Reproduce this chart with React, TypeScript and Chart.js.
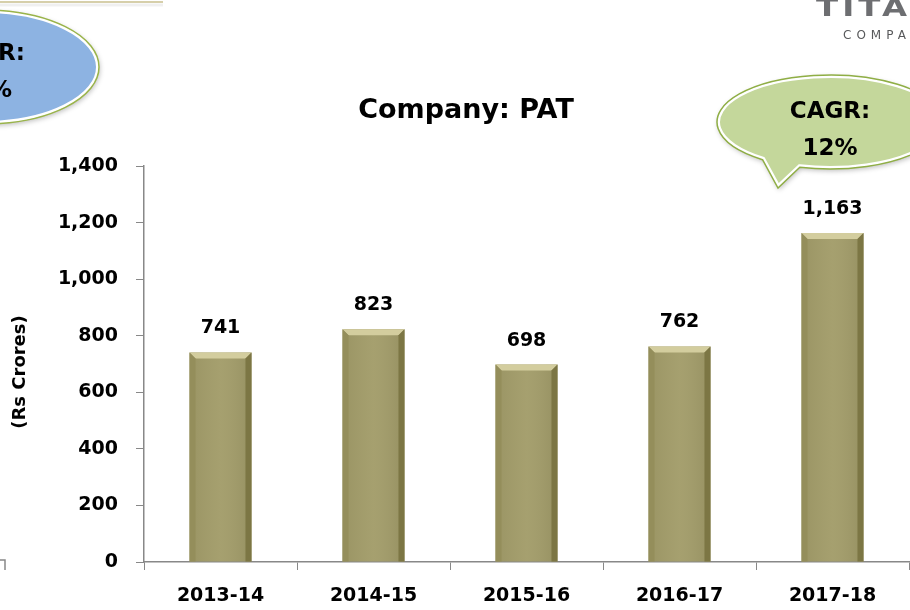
import React, { useEffect, useRef } from "react";
import { Chart, registerables } from "chart.js";

Chart.register(...registerables);

const categories = ["2013-14", "2014-15", "2015-16", "2016-17", "2017-18"];
const patValues = [741, 823, 698, 762, 1163];
const yTicks = [0, 200, 400, 600, 800, 1000, 1200, 1400];
const titleText = "Company: PAT";
const yAxisTitle = "(Rs Crores)";
const bubbleRight = ["CAGR:", "12%"];
const bubbleLeftVisible = ["R:", "%"];

const FONT = "'DejaVu Sans', sans-serif";

function ellipseBubble(ctx: CanvasRenderingContext2D, cx: number, cy: number, rx: number, ry: number, tail: number[] | null) {
  const p = new Path2D();
  if (tail) {
    const [t1, t2, tipX, tipY] = tail;
    p.ellipse(cx, cy, rx, ry, 0, t2, t1, false);
    p.lineTo(tipX, tipY);
    p.closePath();
  } else {
    p.ellipse(cx, cy, rx, ry, 0, 0, Math.PI * 2);
  }
  return p;
}

function paintBubble(ctx: CanvasRenderingContext2D, p: Path2D, fill: string, edge: string) {
  ctx.save();
  ctx.shadowColor = "rgba(0,0,0,0.25)";
  ctx.shadowBlur = 5;
  ctx.shadowOffsetX = 1;
  ctx.shadowOffsetY = 2;
  ctx.fillStyle = fill;
  ctx.fill(p);
  ctx.restore();
  ctx.save();
  ctx.clip(p);
  ctx.lineWidth = 6;
  ctx.strokeStyle = "#ffffff";
  ctx.stroke(p);
  ctx.restore();
  ctx.save();
  ctx.lineWidth = 1.5;
  ctx.strokeStyle = edge;
  ctx.stroke(p);
  ctx.restore();
}

const decorPlugin = {
  id: "decor",
  afterDraw(chart: any) {
    const ctx: CanvasRenderingContext2D = chart.ctx;
    ctx.save();
    // top-left rule
    ctx.strokeStyle = "#D6CFAA";
    ctx.lineWidth = 2;
    ctx.beginPath();
    ctx.moveTo(0, 2);
    ctx.lineTo(163, 2);
    ctx.stroke();
    ctx.strokeStyle = "rgba(0,0,0,0.06)";
    ctx.lineWidth = 3;
    ctx.beginPath();
    ctx.moveTo(0, 5);
    ctx.lineTo(163, 5);
    ctx.stroke();

    // left (blue) ellipse
    const pl = ellipseBubble(ctx, -16, 67, 115, 57, null);
    paintBubble(ctx, pl, "#8DB3E2", "#9AB44A");
    ctx.fillStyle = "#000";
    ctx.font = `bold 23px ${FONT}`;
    ctx.textAlign = "right";
    ctx.textBaseline = "alphabetic";
    ctx.fillText(bubbleLeftVisible[0], 25, 60);
    ctx.fillText(bubbleLeftVisible[1], 12, 97);

    // right (green) speech bubble
    const cx = 830, cy = 122, rx = 113, ry = 47;
    const t1 = Math.atan2((167 - cy) / ry, (800 - cx) / rx);
    const t2 = Math.atan2((160 - cy) / ry, (762 - cx) / rx);
    const pr = ellipseBubble(ctx, cx, cy, rx, ry, [t1, t2, 778, 188]);
    paintBubble(ctx, pr, "#C4D79B", "#8FAE45");
    ctx.fillStyle = "#000";
    ctx.font = `bold 23px ${FONT}`;
    ctx.textAlign = "center";
    ctx.fillText(bubbleRight[0], 830, 118);
    ctx.fillText(bubbleRight[1], 830, 155);

    // logo
    ctx.save();
    ctx.fillStyle = "#6D6E71";
    ctx.textAlign = "left";
    ctx.translate(816, 16);
    ctx.scale(1.35, 1);
    ctx.font = `bold 24px ${FONT}`;
    (ctx as any).letterSpacing = "3px";
    ctx.fillText("TITAN", 0, 0);
    ctx.restore();
    ctx.save();
    ctx.fillStyle = "#58595B";
    ctx.textAlign = "left";
    ctx.font = `12px ${FONT}`;
    (ctx as any).letterSpacing = "5px";
    ctx.fillText("COMPANY", 843, 39);
    ctx.restore();

    // title
    ctx.fillStyle = "#000";
    ctx.textAlign = "center";
    ctx.font = `bold 27px ${FONT}`;
    ctx.fillText(titleText, 466, 118);

    // y axis title
    ctx.save();
    ctx.translate(20, 372);
    ctx.rotate(-Math.PI / 2);
    ctx.font = `bold 18px ${FONT}`;
    ctx.textBaseline = "middle";
    ctx.fillText(yAxisTitle, 0, 0);
    ctx.restore();

    // bottom-left fragment of neighbouring chart
    ctx.strokeStyle = "#888";
    ctx.lineWidth = 1.5;
    ctx.beginPath();
    ctx.moveTo(0, 560);
    ctx.lineTo(5, 560);
    ctx.lineTo(5, 570);
    ctx.stroke();
    ctx.restore();
  },
};

const bevelPlugin = {
  id: "bevel",
  afterDatasetsDraw(chart: any) {
    const ctx: CanvasRenderingContext2D = chart.ctx;
    const meta = chart.getDatasetMeta(0);
    ctx.save();
    meta.data.forEach((el: any, i: number) => {
      const x0 = el.x - el.width / 2;
      const x1 = el.x + el.width / 2;
      const y0 = el.y;
      const y1 = el.base;
      const b = 6;
      const g = ctx.createLinearGradient(x0, 0, x1, 0);
      g.addColorStop(0, "rgba(0,0,0,0.05)");
      g.addColorStop(0.5, "rgba(255,255,255,0.04)");
      g.addColorStop(1, "rgba(0,0,0,0.08)");
      ctx.fillStyle = g;
      ctx.fillRect(x0, y0, x1 - x0, y1 - y0);
      // top bevel
      ctx.fillStyle = "#D3CD9E";
      ctx.beginPath();
      ctx.moveTo(x0, y0);
      ctx.lineTo(x1, y0);
      ctx.lineTo(x1 - b, y0 + b);
      ctx.lineTo(x0 + b, y0 + b);
      ctx.closePath();
      ctx.fill();
      // left bevel
      ctx.fillStyle = "#948E5B";
      ctx.beginPath();
      ctx.moveTo(x0, y0);
      ctx.lineTo(x0 + b, y0 + b);
      ctx.lineTo(x0 + b, y1);
      ctx.lineTo(x0, y1);
      ctx.closePath();
      ctx.fill();
      // right bevel
      ctx.fillStyle = "#7C7644";
      ctx.beginPath();
      ctx.moveTo(x1, y0);
      ctx.lineTo(x1 - b, y0 + b);
      ctx.lineTo(x1 - b, y1);
      ctx.lineTo(x1, y1);
      ctx.closePath();
      ctx.fill();
      // value label
      ctx.fillStyle = "#000";
      ctx.font = `bold 19px ${FONT}`;
      ctx.textAlign = "center";
      ctx.textBaseline = "alphabetic";
      ctx.fillText(patValues[i].toLocaleString("en-US"), el.x, y0 - 19);
    });
    ctx.restore();
  },
};

export default function App() {
  const ref = useRef<HTMLCanvasElement | null>(null);
  useEffect(() => {
    if (!ref.current) return;
    const chart = new Chart(ref.current, {
      type: "bar",
      data: {
        labels: categories,
        datasets: [
          {
            data: patValues,
            backgroundColor: "#A29C69",
            borderWidth: 0,
            barPercentage: 0.45,
            categoryPercentage: 0.9,
          },
        ],
      },
      options: {
        responsive: false,
        animation: false,
        devicePixelRatio: 1,
        layout: { padding: { top: 166, right: 1, left: 0, bottom: 0 } },
        plugins: { legend: { display: false }, tooltip: { enabled: false }, title: { display: false } },
        scales: {
          x: {
            afterFit: (s: any) => {
              s.height = 48;
            },
            grid: { drawOnChartArea: false, drawTicks: true, tickLength: 8, color: "#888", offset: true },
            border: { display: true, color: "#888", width: 1.5 },
            ticks: { color: "#000", font: { family: FONT, weight: "bold", size: 19 }, padding: 15, maxRotation: 0 },
          },
          y: {
            min: 0,
            max: 1400,
            afterFit: (s: any) => {
              s.width = 144;
            },
            afterBuildTicks: (s: any) => {
              s.ticks = yTicks.map((v) => ({ value: v }));
            },
            grid: { drawOnChartArea: false, drawTicks: true, tickLength: 8, color: "#888" },
            border: { display: true, color: "#888", width: 1.5 },
            ticks: {
              color: "#000",
              font: { family: FONT, weight: "bold", size: 19 },
              padding: 18,
              callback: (v: any) => Number(v).toLocaleString("en-US"),
            },
          },
        },
      },
      plugins: [decorPlugin, bevelPlugin],
    });
    return () => chart.destroy();
  }, []);
  return (
    <div style={{ position: "fixed", left: 0, top: 0, width: 910, height: 610, background: "#fff" }}>
      <canvas ref={ref} width={910} height={610} />
    </div>
  );
}
